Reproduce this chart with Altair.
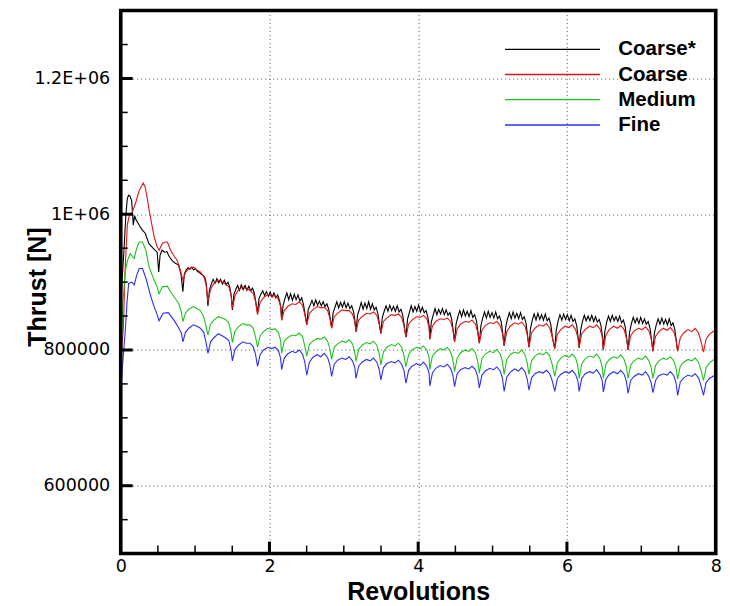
import altair as alt
import pandas as pd

# ---------------- series identity ----------------
series_names = ["Coarse*", "Coarse", "Medium", "Fine"]
series_colors = ["#000000", "#e01414", "#1ec41e", "#2e2ef5"]

# ---------------- axis ticks ----------------
x_major = [0, 2, 4, 6, 8]
x_major_inner = [2, 4, 6]
x_minor = [0.5, 1, 1.5, 2.5, 3, 3.5, 4.5, 5, 5.5, 6.5, 7, 7.5]
y_major = [600000, 800000, 1000000, 1200000]
y_major_labels = ["600000", "800000", "1E+06", "1.2E+06"]
y_minor = [550000, 650000, 700000, 750000, 850000, 900000, 950000,
           1050000, 1100000, 1150000, 1250000]

# ---------------- sampling positions (revolutions) ----------------
dip_x = [0.836, 1.173, 1.502, 1.840, 2.164, 2.502, 2.836, 3.164, 3.498, 3.836, 4.156,
         4.489, 4.822, 5.156, 5.489, 5.836, 6.164, 6.489, 6.822, 7.156, 7.489, 7.836]
smooth_offsets = [0, 0.035, 0.08, 0.14, 0.19, 0.235, 0.28, 0.31]
jitter_offsets = [0, 0.02, 0.045, 0.07, 0.095, 0.12, 0.145, 0.17, 0.195, 0.22,
                  0.245, 0.27, 0.295, 0.315]

# ---------------- thrust values (kN) ----------------
coarse_star_head_x = [0.0, 0.02, 0.044, 0.07, 0.089, 0.105, 0.124, 0.147, 0.16, 0.169, 0.187,
                      0.205, 0.222, 0.26, 0.289, 0.33, 0.378, 0.41, 0.444, 0.49, 0.511, 0.53,
                      0.556, 0.59, 0.622, 0.65, 0.689, 0.73, 0.778, 0.81]
coarse_star_head_y = [860, 905, 947, 1000, 1023, 1028, 1027, 1020, 1000, 984, 998,
                      992, 989, 982, 977, 972, 957, 953, 949, 944, 915, 940,
                      947, 944, 945, 938, 932, 928, 925, 912]
coarse_star_rows = [
    [886, 912, 918, 921, 919, 922, 918, 920, 916, 914, 912, 910, 907, 898],
    [865, 888, 897, 904, 898, 905, 899, 904, 897, 903, 896, 900, 892, 878],
    [859, 882, 889, 895, 888, 896, 889, 895, 888, 894, 887, 891, 884, 870],
    [855, 876, 882, 887, 880, 886, 879, 885, 878, 884, 877, 881, 873, 862],
    [844, 866, 876, 884, 874, 883, 873, 882, 874, 881, 872, 877, 866, 853],
    [837, 860, 866, 873, 865, 874, 866, 872, 865, 871, 864, 868, 860, 847],
    [832, 855, 863, 871, 862, 870, 863, 871, 862, 869, 861, 865, 856, 842],
    [827, 851, 860, 870, 860, 869, 861, 871, 860, 868, 859, 863, 853, 838],
    [824, 848, 857, 865, 857, 866, 858, 864, 857, 865, 856, 860, 851, 835],
    [819, 845, 855, 865, 856, 864, 857, 866, 856, 863, 855, 858, 848, 832],
    [816, 841, 851, 861, 852, 860, 853, 861, 852, 859, 851, 855, 845, 829],
    [812, 838, 849, 858, 849, 859, 850, 857, 849, 858, 848, 852, 843, 826],
    [810, 835, 847, 856, 847, 857, 848, 855, 847, 856, 846, 850, 841, 824],
    [806, 833, 846, 855, 846, 856, 847, 854, 846, 855, 845, 849, 839, 821],
    [804, 831, 844, 853, 844, 854, 845, 852, 844, 853, 843, 847, 837, 819],
    [802, 829, 843, 852, 844, 853, 845, 852, 843, 851, 842, 846, 836, 818],
    [803, 829, 842, 851, 843, 850, 843, 851, 842, 849, 841, 845, 835, 818],
    [800, 827, 841, 850, 842, 851, 843, 849, 842, 850, 840, 844, 834, 816],
    [800, 826, 839, 848, 840, 847, 839, 848, 839, 846, 838, 842, 832, 815],
    [798, 825, 837, 846, 838, 847, 838, 845, 837, 846, 836, 840, 830, 813],
]
coarse_star_tail_x = [7.485]
coarse_star_tail_y = [800]

coarse_head_x = [0.0, 0.036, 0.06, 0.09, 0.116, 0.156, 0.204, 0.249, 0.302, 0.329, 0.355,
                 0.382, 0.449, 0.49, 0.516, 0.56, 0.6, 0.627, 0.671, 0.72, 0.76, 0.8]
coarse_head_y = [780, 834, 920, 985, 998, 1003, 1018, 1035, 1046, 1040, 1025,
                 1006, 967, 952, 947, 957, 959, 959, 947, 938, 932, 918]
coarse_rows = [
    [903, 914, 920, 922, 918, 915, 908, 898],
    [871, 889, 898, 903, 900, 897, 893, 882],
    [861, 880, 888, 893, 890, 888, 883, 872],
    [852, 870, 877, 882, 879, 880, 875, 864],
    [844, 858, 864, 868, 867, 871, 866, 853],
    [837, 854, 859, 864, 862, 863, 858, 847],
    [832, 849, 854, 859, 858, 858, 853, 842],
    [827, 844, 849, 854, 853, 856, 851, 839],
    [825, 842, 847, 852, 851, 853, 848, 836],
    [819, 838, 844, 849, 848, 851, 846, 833],
    [816, 835, 842, 846, 845, 847, 842, 830],
    [812, 831, 838, 842, 841, 844, 838, 827],
    [810, 829, 836, 840, 839, 842, 836, 825],
    [806, 827, 835, 840, 838, 841, 835, 823],
    [804, 825, 832, 837, 835, 839, 832, 821],
    [802, 823, 830, 835, 833, 837, 830, 819],
    [804, 824, 830, 835, 833, 837, 831, 820],
    [801, 822, 830, 835, 832, 836, 830, 818],
    [801, 821, 828, 832, 830, 834, 828, 817],
    [799, 820, 827, 832, 829, 833, 827, 816],
    [798, 818, 825, 830, 827, 832, 825, 814],
]
coarse_tail_x = [7.836, 7.871, 7.916, 7.976, 8.0]
coarse_tail_y = [797, 816, 823, 828, 829]

medium_head_x = [0.0, 0.03, 0.06, 0.093, 0.127, 0.155, 0.182, 0.215, 0.249, 0.293, 0.338,
                 0.382, 0.449, 0.49, 0.516, 0.56, 0.627, 0.693, 0.745, 0.782, 0.815]
medium_head_y = [790, 870, 915, 932, 942, 938, 935, 950, 959, 959, 947,
                 922, 903, 893, 883, 893, 894, 882, 874, 868, 856]
medium_rows = [
    [842, 854, 860, 864, 861, 858, 849, 836],
    [822, 838, 844, 849, 847, 845, 840, 826],
    [811, 828, 834, 839, 837, 837, 832, 820],
    [804, 821, 827, 832, 830, 831, 826, 814],
    [795, 813, 818, 822, 821, 825, 820, 806],
    [791, 808, 813, 817, 816, 819, 813, 802],
    [786, 804, 809, 813, 811, 815, 809, 798],
    [783, 801, 807, 811, 809, 813, 807, 795],
    [778, 797, 804, 808, 806, 810, 804, 792],
    [775, 793, 800, 804, 802, 806, 800, 789],
    [771, 791, 797, 802, 800, 804, 797, 786],
    [768, 788, 796, 800, 798, 802, 796, 784],
    [766, 787, 794, 798, 796, 801, 794, 783],
    [764, 786, 793, 797, 795, 800, 793, 781],
    [764, 784, 791, 795, 793, 797, 791, 780],
    [761, 781, 788, 792, 789, 794, 788, 777],
    [758, 779, 787, 791, 789, 794, 787, 775],
    [758, 779, 786, 790, 788, 793, 786, 775],
    [758, 778, 784, 788, 786, 791, 784, 774],
    [758, 777, 784, 788, 786, 790, 784, 774],
    [757, 776, 782, 786, 784, 788, 782, 772],
]
medium_tail_x = [7.836, 7.871, 7.916, 7.976, 8.0]
medium_tail_y = [755, 774, 781, 786, 788]

fine_head_x = [0.0, 0.02, 0.062, 0.085, 0.107, 0.151, 0.182, 0.215, 0.249, 0.293,
               0.338, 0.404, 0.449, 0.49, 0.516, 0.569, 0.64, 0.716, 0.782, 0.815]
fine_head_y = [737, 770, 829, 870, 898, 900, 896, 910, 920, 920,
               906, 879, 864, 852, 843, 854, 855, 844, 832, 825]
fine_rows = [
    [812, 826, 832, 837, 835, 832, 826, 812],
    [795, 812, 818, 824, 821, 818, 814, 800],
    [784, 801, 807, 812, 810, 810, 805, 794],
    [776, 793, 800, 804, 802, 804, 799, 788],
    [771, 788, 794, 798, 796, 800, 794, 783],
    [763, 782, 789, 793, 790, 795, 789, 778],
    [761, 779, 785, 788, 786, 790, 784, 775],
    [758, 776, 782, 786, 784, 788, 782, 772],
    [756, 774, 780, 783, 781, 785, 779, 770],
    [751, 770, 776, 780, 777, 782, 776, 766],
    [747, 766, 773, 777, 775, 779, 773, 763],
    [746, 765, 771, 774, 772, 776, 771, 761],
    [744, 763, 769, 773, 771, 775, 769, 759],
    [739, 760, 767, 772, 769, 774, 768, 757],
    [741, 759, 765, 768, 766, 770, 765, 756],
    [739, 758, 764, 768, 766, 770, 764, 755],
    [739, 758, 765, 768, 766, 771, 764, 755],
    [738, 757, 764, 768, 765, 770, 764, 754],
    [736, 755, 761, 765, 763, 768, 761, 752],
    [737, 755, 762, 765, 763, 768, 762, 752],
    [733, 753, 759, 763, 761, 765, 759, 749],
]
fine_tail_x = [7.836, 7.871, 7.916, 7.976, 8.0]
fine_tail_y = [733, 752, 758, 762, 765]


def build(name, head_x, head_y, rows, offsets, tail_x, tail_y):
    xs = list(head_x)
    ys = list(head_y)
    for d, row in zip(dip_x, rows):
        for o, v in zip(offsets, row):
            xs.append(round(d + o, 4))
            ys.append(v)
    xs += tail_x
    ys += tail_y
    return pd.DataFrame({"rev": xs, "thrust": [v * 1000 for v in ys], "grid": name})


df = pd.concat([
    build("Coarse*", coarse_star_head_x, coarse_star_head_y, coarse_star_rows,
          jitter_offsets, coarse_star_tail_x, coarse_star_tail_y),
    build("Coarse", coarse_head_x, coarse_head_y, coarse_rows,
          smooth_offsets, coarse_tail_x, coarse_tail_y),
    build("Medium", medium_head_x, medium_head_y, medium_rows,
          smooth_offsets, medium_tail_x, medium_tail_y),
    build("Fine", fine_head_x, fine_head_y, fine_rows,
          smooth_offsets, fine_tail_x, fine_tail_y),
], ignore_index=True)

# ---------------- chart ----------------
W, H = 595, 543
x_scale = alt.Scale(domain=[0, 8], nice=False, zero=False)
y_scale = alt.Scale(domain=[500000, 1300000], nice=False, zero=False)
color_scale = alt.Scale(domain=series_names, range=series_colors)

label_expr = "''"
for v, lab in reversed(list(zip(y_major, y_major_labels))):
    label_expr = f"datum.value == {v} ? '{lab}' : {label_expr}"

x_axis = alt.Axis(values=x_major, grid=True, gridDash=[1, 3], gridColor="#555555",
                  gridWidth=1, tickSize=0, domain=False, labelFlush=False,
                  labelFont="DejaVu Sans", labelFontSize=17.5, labelColor="black",
                  labelPadding=4, format="d",
                  title="Revolutions", titleFont="Liberation Sans", titleFontWeight="bold",
                  titleFontSize=25, titleColor="black", titleY=46,
                  titleBaseline="alphabetic")
y_axis = alt.Axis(values=y_major, grid=True, gridDash=[1, 3], gridColor="#555555",
                  gridWidth=1, tickSize=0, domain=False, labelExpr=label_expr,
                  labelFont="DejaVu Sans", labelFontSize=17.5, labelColor="black",
                  labelPadding=11,
                  title="Thrust [N]", titleFont="Liberation Sans", titleFontWeight="bold",
                  titleFontSize=25, titleColor="black", titleX=-75, titleY=276,
                  titleAngle=270, titleAlign="center", titleBaseline="alphabetic")

lines = alt.Chart(df).mark_line(strokeWidth=1.1, clip=True).encode(
    x=alt.X("rev:Q", scale=x_scale, axis=x_axis),
    y=alt.Y("thrust:Q", scale=y_scale, axis=y_axis),
    color=alt.Color("grid:N", scale=color_scale, legend=None),
)

# inward tick marks
ymaj = alt.Chart(pd.DataFrame({"thrust": y_major})).mark_rule(
    color="black", strokeWidth=3).encode(
    y=alt.Y("thrust:Q", scale=y_scale, axis=y_axis),
    x=alt.value(0), x2=alt.value(12))
ymin = alt.Chart(pd.DataFrame({"thrust": y_minor})).mark_rule(
    color="black", strokeWidth=1.5).encode(
    y=alt.Y("thrust:Q", scale=y_scale, axis=y_axis),
    x=alt.value(0), x2=alt.value(7))
xmaj = alt.Chart(pd.DataFrame({"rev": x_major_inner})).mark_rule(
    color="black", strokeWidth=3).encode(
    x=alt.X("rev:Q", scale=x_scale, axis=x_axis),
    y=alt.value(H), y2=alt.value(H - 12))
xmin = alt.Chart(pd.DataFrame({"rev": x_minor})).mark_rule(
    color="black", strokeWidth=1.5).encode(
    x=alt.X("rev:Q", scale=x_scale, axis=x_axis),
    y=alt.value(H), y2=alt.value(H - 8))

# plot frame
frame = alt.Chart(pd.DataFrame({"f": [0]})).mark_rect(
    fillOpacity=0, stroke="black", strokeWidth=3.5).encode(
    x=alt.value(0), x2=alt.value(W), y=alt.value(0), y2=alt.value(H))

# legend (one rule + one text per series)
legend_rows_y = [38.7, 63.9, 89.1, 114.4]
legend_layers = []
for name, col, ly in zip(series_names, series_colors, legend_rows_y):
    one = pd.DataFrame({"grid": [name]})
    legend_layers.append(
        alt.Chart(one).mark_rule(strokeWidth=1.3, color=col).encode(
            x=alt.value(384.3), x2=alt.value(479.3), y=alt.value(ly)))
    legend_layers.append(
        alt.Chart(one).mark_text(
            align="left", baseline="middle", font="Liberation Sans", fontWeight="bold",
            fontSize=20.5, color="black").encode(
            x=alt.value(497.6), y=alt.value(ly), text="grid:N"))

chart = alt.layer(lines, ymaj, ymin, xmaj, xmin, frame, *legend_layers).properties(
    width=W, height=H,
    autosize=alt.AutoSizeParams(type="none"),
    padding={"left": 112.7, "top": 2.6, "right": 6, "bottom": 52},
).configure_view(stroke="black", strokeWidth=3)

chart.save("out.html", embed_options={"renderer": "svg", "actions": False})
